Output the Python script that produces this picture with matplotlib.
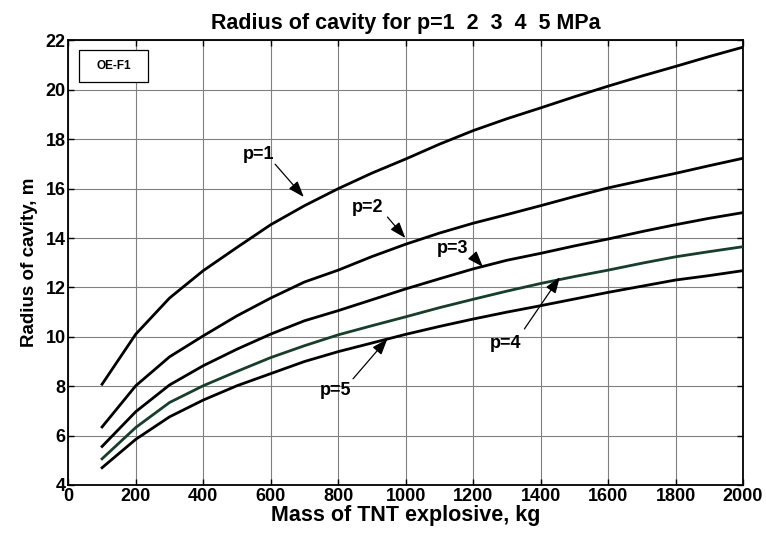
import matplotlib
matplotlib.use("Agg")
import matplotlib.pyplot as plt
from matplotlib.patches import Rectangle

plt.rcParams['font.family'] = ['Liberation Sans', 'DejaVu Sans']
plt.rcParams['font.weight'] = 'bold'

mass = [100, 200, 300, 400, 500, 600, 700, 800, 900, 1000,
        1100, 1200, 1300, 1400, 1500, 1600, 1700, 1800, 1900, 2000]
r_p1 = [8.08, 10.11, 11.57, 12.68, 13.62, 14.54, 15.31, 16.0, 16.63, 17.2,
        17.8, 18.35, 18.83, 19.27, 19.72, 20.15, 20.56, 20.95, 21.35, 21.73]
r_p2 = [6.35, 8.02, 9.19, 10.04, 10.85, 11.57, 12.22, 12.7, 13.25, 13.75,
        14.2, 14.6, 14.95, 15.31, 15.68, 16.03, 16.33, 16.62, 16.93, 17.23]
r_p3 = [5.56, 6.97, 8.05, 8.83, 9.5, 10.11, 10.65, 11.06, 11.5, 11.94,
        12.35, 12.75, 13.1, 13.38, 13.68, 13.96, 14.26, 14.54, 14.8, 15.03]
r_p4 = [5.06, 6.33, 7.34, 8.02, 8.6, 9.16, 9.64, 10.08, 10.45, 10.81,
        11.18, 11.52, 11.85, 12.16, 12.44, 12.7, 12.98, 13.24, 13.45, 13.65]
r_p5 = [4.7, 5.85, 6.76, 7.44, 8.02, 8.51, 9.0, 9.4, 9.75, 10.1,
        10.42, 10.72, 11.0, 11.26, 11.53, 11.8, 12.05, 12.3, 12.48, 12.68]

series = [r_p1, r_p2, r_p3, r_p4, r_p5]
colors = ['black', 'black', 'black', '#173d2b', 'black']

xticks = [0, 200, 400, 600, 800, 1000, 1200, 1400, 1600, 1800, 2000]
yticks = [4, 6, 8, 10, 12, 14, 16, 18, 20, 22]

# labels: (text, text_xy, arrow_tail, arrow_tip)
labels = [
    ("p=1", (563, 17.39), (613, 16.99), (698, 15.66)),
    ("p=2", (888, 15.25), (946, 14.85), (999, 14.0)),
    ("p=3", (1139, 13.56), (1200, 13.27), (1229, 12.83)),
    ("p=4", (1296, 9.72), (1352, 10.32), (1457, 12.42)),
    ("p=5", (791, 7.82), (844, 8.30), (946, 9.92)),
]

fig = plt.figure(figsize=(7.66, 5.39), dpi=100)
ax = fig.add_axes([0.0892, 0.1002, 0.9700 - 0.0892, 0.9249 - 0.1002])

for s, c in zip(series, colors):
    ax.plot(mass, s, color=c, lw=2.0, zorder=3)

ax.set_xlim(0, 2000)
ax.set_ylim(4, 22)
ax.set_xticks(xticks)
ax.set_yticks(yticks)
ax.grid(True, color='#808080', lw=0.8, ls='-')
ax.set_axisbelow(True)
ax.tick_params(direction='in', top=True, right=True, length=4, width=1,
               labelsize=13, pad=2)
for lab in ax.get_xticklabels() + ax.get_yticklabels():
    lab.set_fontweight('bold')
for sp in ax.spines.values():
    sp.set_linewidth(1.3)

ax.set_title("Radius of cavity for p=1  2  3  4  5 MPa", fontsize=15.5,
             fontweight='bold', pad=8)
ax.set_xlabel("Mass of TNT explosive, kg", fontsize=15.5, fontweight='bold',
              labelpad=0)
ax.set_ylabel("Radius of cavity, m", fontsize=13.5, fontweight='bold',
              labelpad=5)

for txt, txy, tail, tip in labels:
    ax.text(txy[0], txy[1], txt, fontsize=13, fontweight='bold',
            ha='center', va='center', zorder=5)
    ax.annotate("", xy=tip, xytext=tail,
                arrowprops=dict(arrowstyle='-|>,head_length=0.7,head_width=0.25',
                                color='black', lw=0.9, shrinkA=0, shrinkB=0,
                                mutation_scale=14),
                zorder=5)

# OE-F1 box
box = Rectangle((0.0163, 0.907), 0.1015, 0.071, transform=ax.transAxes,
                fill=True, facecolor='white', edgecolor='black', lw=0.9,
                zorder=4)
ax.add_patch(box)
ax.text(0.0163 + 0.1015 / 2, 0.907 + 0.071 / 2, "OE-F1", transform=ax.transAxes,
        fontsize=8.5, fontweight='bold', ha='center', va='center', zorder=5)

fig.savefig("out.png", dpi=100)
